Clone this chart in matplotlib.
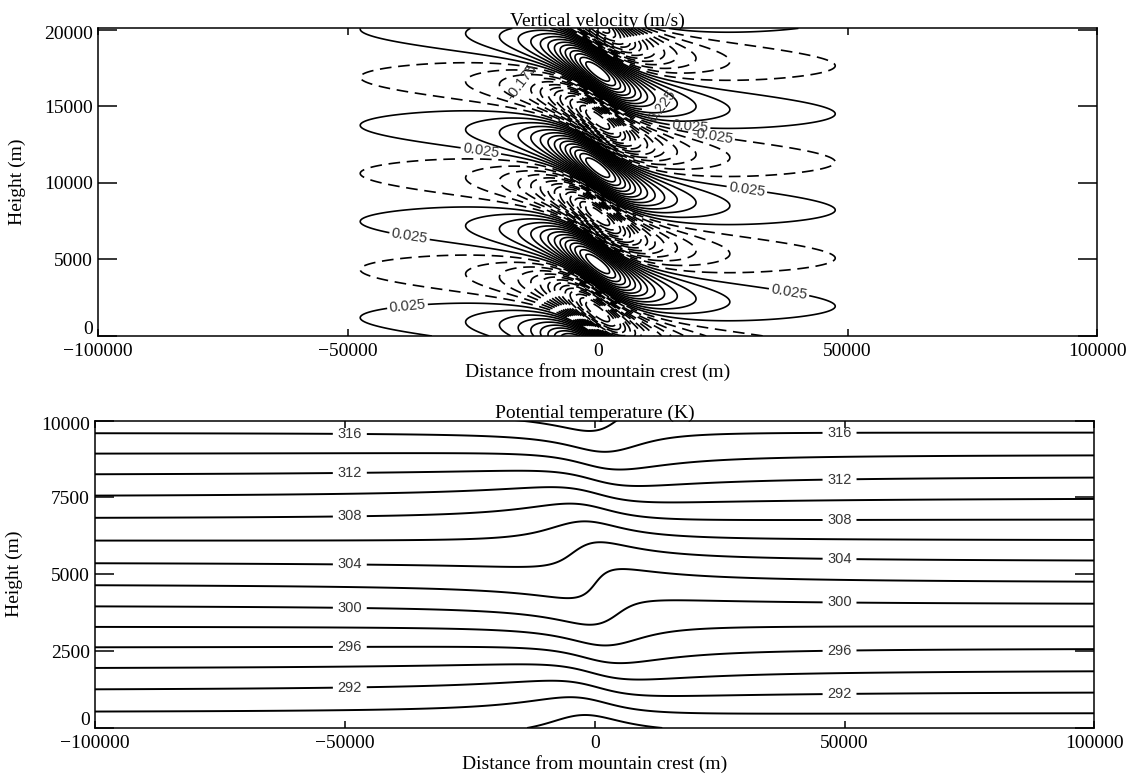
import numpy as np
import matplotlib
matplotlib.use("Agg")
import matplotlib.pyplot as plt
from matplotlib.transforms import ScaledTranslation

# Linear hydrostatic flow over a Witch of Agnesi ridge
U_WIND = 10.0        # m/s
N_BV = 0.01          # 1/s
H_MTN = 650.0        # m
A_MTN = 9000.0       # m, half-width

# background potential temperature profile
THETA_SFC = 288.57   # K
THETA_LAPSE = 2.0 / 700.0  # K/m

W_STEP = 0.05
W_MAX = 0.775
W_LEVELS = np.round(np.arange(-W_MAX, W_MAX + 0.01, W_STEP), 3)
W_LABEL_AT = [(-38000, 1700), (-15500, 16700), (-23500, 11850), (-37400, 7040),
              (23000, 13200), (18500, 13800), (13100, 14900), (29800, 9470),
              (38000, 2300)]

THETA_LEVELS = list(range(288, 322, 2))
THETA_LABEL_LEVELS = [292, 296, 300, 304, 308, 312, 316]
THETA_LABEL_X = [-49000, 49000]

X_TICKS = [-100000, -50000, 0, 50000, 100000]
W_Z_TICKS = [0, 5000, 10000, 15000, 20000]
TH_Z_TICKS = [0, 2500, 5000, 7500, 10000]

plt.rcParams["font.family"] = ["Liberation Serif", "DejaVu Serif"]

x = np.linspace(-100000, 100000, 1201)
z = np.linspace(0, 20100, 805)
X, Z = np.meshgrid(x, z)
m = N_BV / U_WIND
r2 = X ** 2 + A_MTN ** 2
w = -U_WIND * H_MTN * A_MTN * np.sin(m * Z + 2 * np.arctan(X / A_MTN)) / r2
eta = H_MTN * A_MTN * (A_MTN * np.cos(m * Z) - X * np.sin(m * Z)) / r2
theta = THETA_SFC + THETA_LAPSE * (Z - eta)


def style_axes(ax, yticks, ylim, fig):
    ax.set_xlim(-100000, 100000)
    ax.set_ylim(*ylim)
    ax.set_xticks(X_TICKS)
    ax.set_yticks(yticks)
    ax.set_xticklabels([f"{v:d}".replace("-", "\u2212") for v in X_TICKS])
    ax.set_yticklabels([f"{v:d}" for v in yticks])
    ax.tick_params(direction="in", top=True, right=True, labelsize=14, width=1.1)
    ax.tick_params(axis="x", length=5, pad=5)
    ax.tick_params(axis="y", length=14, pad=3.5)
    for sp in ax.spines.values():
        sp.set_linewidth(1.1)
    ax.set_xlabel("Distance from mountain crest (m)", fontsize=14, labelpad=2)
    ax.set_ylabel("Height (m)", fontsize=14)
    ax.yaxis.set_label_coords(-0.072, 0.5)
    # keep the end labels clear of the corner
    ylabels = ax.get_yticklabels()
    ylabels[0].set_transform(ylabels[0].get_transform()
                             + ScaledTranslation(0, 9 / 100, fig.dpi_scale_trans))
    ylabels[-1].set_transform(ylabels[-1].get_transform()
                              + ScaledTranslation(0, -3 / 100, fig.dpi_scale_trans))


def label_style(texts):
    for t in texts:
        t.set_fontfamily("Liberation Sans")
        t.set_color("0.2")


fig = plt.figure(figsize=(11.28, 7.78), dpi=100)

# vertical velocity
ax1 = fig.add_axes([0.0869, 0.5681, 0.886, 0.3955])
styles = ["solid" if lv > 0 else (0, (7, 4)) for lv in W_LEVELS]
cs1 = ax1.contour(X, Z, w, levels=W_LEVELS, colors="k", linewidths=1.2,
                  linestyles=styles)
label_style(ax1.clabel(cs1, manual=W_LABEL_AT, inline=True, fmt="%g",
                       fontsize=10.5, inline_spacing=4))
style_axes(ax1, W_Z_TICKS, (0, 20100), fig)
ax1.set_title("Vertical velocity (m/s)", fontsize=14, pad=2)

# potential temperature
ax2 = fig.add_axes([0.0842, 0.0643, 0.886, 0.3952])
cs2 = ax2.contour(X, Z, theta, levels=THETA_LEVELS, colors="k", linewidths=1.4)
th_label_at = [(xp, (lv - THETA_SFC) / THETA_LAPSE)
               for lv in THETA_LABEL_LEVELS for xp in THETA_LABEL_X]
label_style(ax2.clabel(cs2, manual=th_label_at, inline=True, fmt="%d",
                       fontsize=10.5, inline_spacing=6))
style_axes(ax2, TH_Z_TICKS, (0, 10000), fig)
ax2.set_title("Potential temperature (K)", fontsize=14, pad=2)

fig.savefig("out.png", dpi=100)
